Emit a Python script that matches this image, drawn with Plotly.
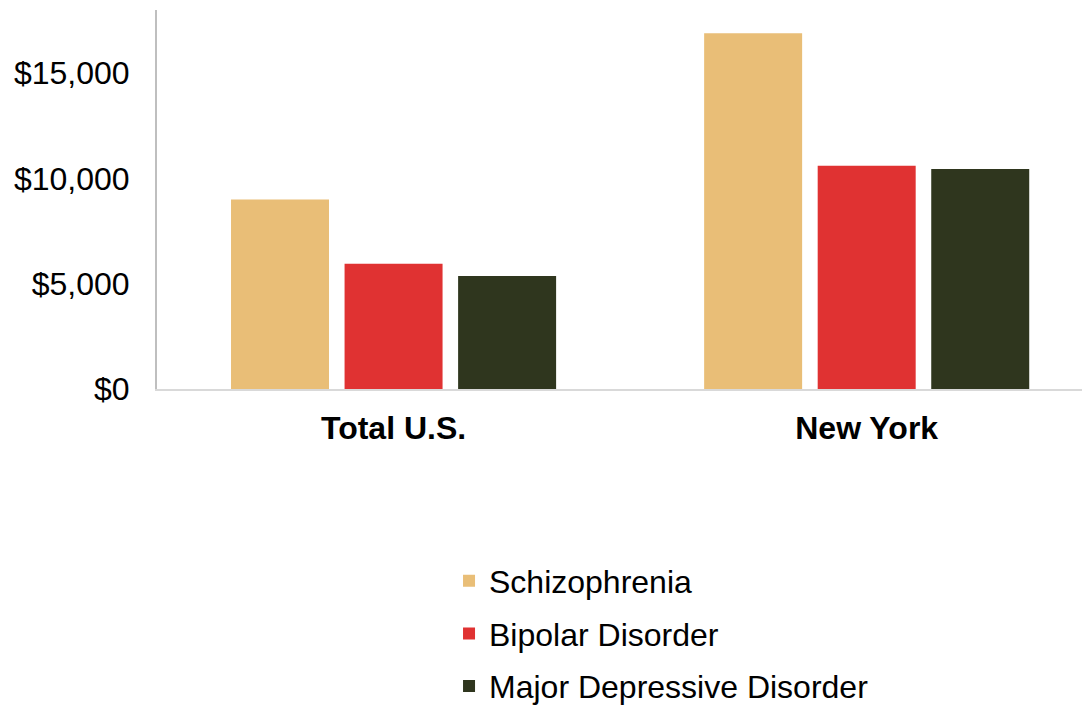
import plotly.graph_objects as go

# Data
CATEGORIES = ["Total U.S.", "New York"]
SCHIZOPHRENIA = [9000, 16900]
BIPOLAR = [5950, 10600]
MAJOR_DEPRESSIVE = [5370, 10450]

SERIES_NAMES = ["Schizophrenia", "Bipolar Disorder", "Major Depressive Disorder"]
COLORS = ["#E9BE77", "#E03232", "#2F361E"]
FONT_FAMILY = "Liberation Sans, Arial, sans-serif"

fig = go.Figure()
for i, (name, vals) in enumerate(zip(SERIES_NAMES, [SCHIZOPHRENIA, BIPOLAR, MAJOR_DEPRESSIVE])):
    fig.add_trace(
        go.Bar(
            x=CATEGORIES,
            y=vals,
            name=name,
            marker=dict(color=COLORS[i], line=dict(width=0)),
            legendgroup=name,
        )
    )

# page body has an 8px default margin, so the figure is sized to fit inside it
fig.update_layout(
    width=1082,
    height=697,
    margin=dict(l=149, r=0, t=2, b=316, autoexpand=False),
    paper_bgcolor="white",
    plot_bgcolor="white",
    barmode="group",
    bargap=0.28,
    bargroupgap=0.137,
    font=dict(family=FONT_FAMILY, color="black"),
    showlegend=True,
    legend=dict(
        orientation="v",
        x=0.313,
        y=-0.434,
        xanchor="left",
        yanchor="top",
        font=dict(size=32, family=FONT_FAMILY),
        tracegroupgap=8,
        itemwidth=30,
    ),
)

fig.update_xaxes(
    range=[-0.5, 1.472],
    automargin=False,
    showline=True,
    linecolor="#D9D9D9",
    linewidth=2,
    showgrid=False,
    ticks="",
    tickfont=dict(size=32, family="Liberation Sans, Arial", color="black", weight="bold"),
    ticklabelstandoff=10,
)
fig.update_yaxes(
    range=[0, 18000],
    automargin=False,
    tickvals=[0, 5000, 10000, 15000],
    ticktext=["$0", "$5,000", "$10,000", "$15,000"],
    showline=True,
    linecolor="#BFBFBF",
    linewidth=2,
    showgrid=False,
    zeroline=False,
    ticks="",
    tickfont=dict(size=32, color="black"),
    ticklabelstandoff=19,
)

fig.write_html("out.html")
